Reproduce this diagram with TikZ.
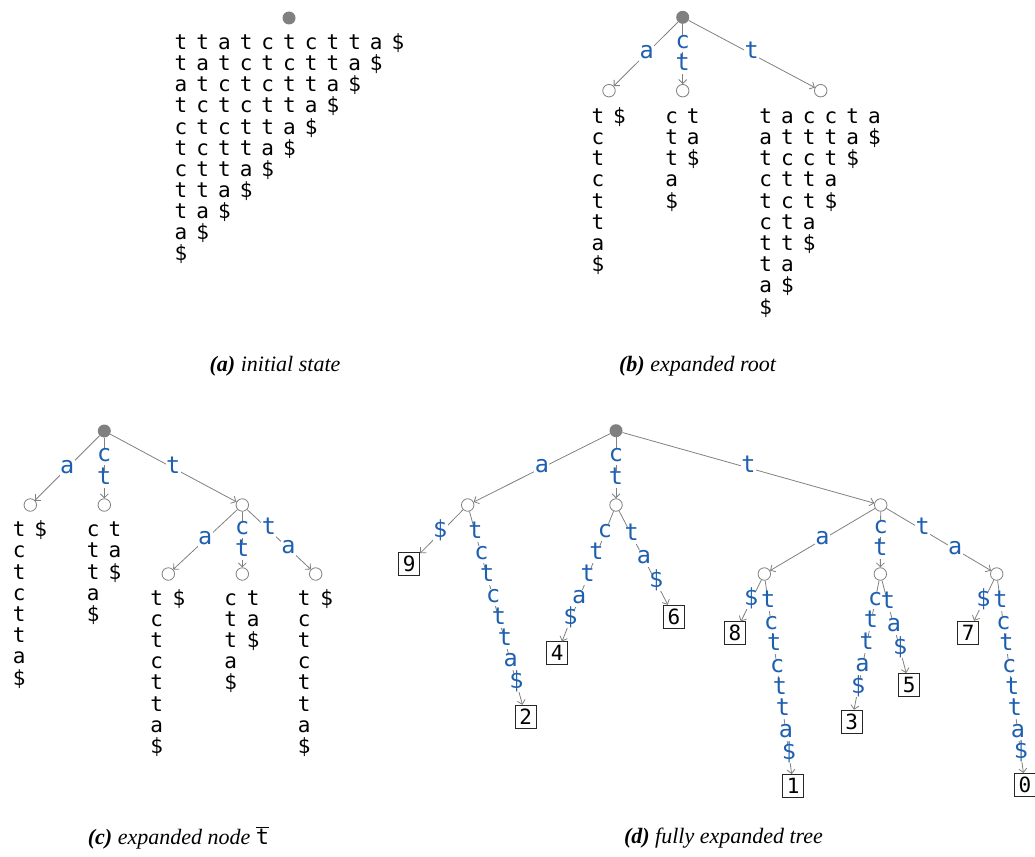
\documentclass[tikz,border=0pt]{standalone}
\usepackage{fontspec}
\setmainfont{Liberation Serif}
\newfontfamily\mono{DejaVu Sans Mono}
\usetikzlibrary{calc,arrows.meta}
\definecolor{edgegray}{RGB}{128,128,128}
\definecolor{lblblue}{RGB}{30,95,175}

% characters of the suffix columns
\newcommand\scol[5]{% name, x, first y, row step, characters
  \foreach \ch [count=\i from 0] in {#5}{\node[ch] (#1-\i) at (#2,#3+\i*#4) {\ch};}}
% one row of characters
\newcommand\srow[5]{% name, first x, y, column step, characters
  \foreach \ch [count=\i from 0] in {#5}{\node[ch] (#1-\i) at (#2+\i*#4,#3) {\ch};}}
% edge label: characters spread along the edge between two nodes
\newcommand\elab[5]{% parent, child, first fraction, fraction step, characters
  \foreach \ch [count=\i from 0] in {#5}{%
    \pgfmathsetmacro\ff{#3+\i*#4}%
    \node[lbl] (#1#2-\i) at ($(#1)!\ff!(#2)$) {\ch};}}

\begin{document}
\begin{tikzpicture}[x=1pt,y=-1pt,
  ch/.style={font=\mono\fontsize{21}{21}\selectfont, inner sep=0pt,
    text height=13pt, text depth=3pt},
  lbl/.style={font=\mono\fontsize{23.5}{23.5}\selectfont, text=lblblue, fill=white,
    inner sep=0.5pt, text height=13pt, text depth=3pt},
  inner/.style={circle, draw=edgegray, fill=white, minimum size=12.5pt, inner sep=0pt, line width=0.8pt},
  rootn/.style={circle, fill=edgegray, minimum size=13pt, inner sep=0pt},
  edge/.style={draw=edgegray, line width=0.8pt, -{Straight Barb[length=4pt,width=8pt]}},
  leaf/.style={draw=black!85, line width=0.8pt, minimum width=21pt, minimum height=23pt, inner sep=0pt,
    font=\mono\fontsize{21}{21}\selectfont},
  captxt/.style={font=\fontsize{22}{22}\selectfont\itshape, inner sep=0pt}
]
\useasboundingbox (0,0) rectangle (1035,856);

% ---------- (a) initial state ----------
\node[rootn] (aR) at (289,18) {};
\srow{ar0}{181}{45}{21.7}{t,t,a,t,c,t,c,t,t,a,\$}
\srow{ar1}{181}{66}{21.7}{t,a,t,c,t,c,t,t,a,\$}
\srow{ar2}{181}{87}{21.7}{a,t,c,t,c,t,t,a,\$}
\srow{ar3}{181}{108}{21.7}{t,c,t,c,t,t,a,\$}
\srow{ar4}{181}{129}{21.7}{c,t,c,t,t,a,\$}
\srow{ar5}{181}{150}{21.7}{t,c,t,t,a,\$}
\srow{ar6}{181}{171}{21.7}{c,t,t,a,\$}
\srow{ar7}{181}{192}{21.7}{t,t,a,\$}
\srow{ar8}{181}{213}{21.7}{t,a,\$}
\srow{ar9}{181}{234}{21.7}{a,\$}
\srow{ar10}{181}{255}{21.7}{\$}
\node[captxt] (capa) at (275,366) {\textbf{(a)} initial state};

% ---------- (b) expanded root ----------
\node[rootn] (bR) at (682.7,17.3) {};
\node[inner] (bA) at (609,90.7) {};
\node[inner] (bC) at (682.7,90.7) {};
\node[inner] (bT) at (820.7,90.7) {};
\draw[edge] (bR) -- (bA);
\draw[edge] (bR) -- (bC);
\draw[edge] (bR) -- (bT);
\elab{bR}{bA}{0.49}{0}{a}
\elab{bR}{bC}{0.355}{0.30}{c,t}
\elab{bR}{bT}{0.5}{0}{t}
\scol{bA1}{598}{118.3}{21.2}{t,c,t,c,t,t,a,\$}
\scol{bA2}{619.5}{118.3}{21.2}{\$}
\scol{bC1}{671.7}{118.3}{21.2}{c,t,t,a,\$}
\scol{bC2}{693.3}{118.3}{21.2}{t,a,\$}
\scol{bT1}{765.7}{118.3}{21.2}{t,a,t,c,t,c,t,t,a,\$}
\scol{bT2}{787.5}{118.3}{21.2}{a,t,c,t,c,t,t,a,\$}
\scol{bT3}{809.3}{118.3}{21.2}{c,t,c,t,t,a,\$}
\scol{bT4}{831}{118.3}{21.2}{c,t,t,a,\$}
\scol{bT5}{852.7}{118.3}{21.2}{t,a,\$}
\scol{bT6}{874.4}{118.3}{21.2}{a,\$}
\node[captxt] (capb) at (697.5,366) {\textbf{(b)} expanded root};

% ---------- (c) expanded node t ----------
\node[rootn] (cR) at (104.3,431) {};
\node[inner] (cA) at (30.3,505) {};
\node[inner] (cC) at (104.3,505) {};
\node[inner] (cT) at (242.3,505) {};
\node[inner] (cTA) at (168.3,574) {};
\node[inner] (cTC) at (242.3,574) {};
\node[inner] (cTT) at (315.7,574) {};
\draw[edge] (cR) -- (cA);
\draw[edge] (cR) -- (cC);
\draw[edge] (cR) -- (cT);
\draw[edge] (cT) -- (cTA);
\draw[edge] (cT) -- (cTC);
\draw[edge] (cT) -- (cTT);
\elab{cR}{cA}{0.5}{0}{a}
\elab{cR}{cC}{0.34}{0.31}{c,t}
\elab{cR}{cT}{0.5}{0}{t}
\elab{cT}{cTA}{0.5}{0}{a}
\elab{cT}{cTC}{0.35}{0.32}{c,t}
\elab{cT}{cTT}{0.362}{0.266}{t,a}
\scol{cA1}{19.3}{531.7}{21.2}{t,c,t,c,t,t,a,\$}
\scol{cA2}{40.7}{531.7}{21.2}{\$}
\scol{cC1}{93.3}{531.7}{21.2}{c,t,t,a,\$}
\scol{cC2}{115}{531.7}{21.2}{t,a,\$}
\scol{cTA1}{156.7}{600}{21.2}{t,c,t,c,t,t,a,\$}
\scol{cTA2}{179}{600}{21.2}{\$}
\scol{cTC1}{230.7}{600}{21.2}{c,t,t,a,\$}
\scol{cTC2}{253.3}{600}{21.2}{t,a,\$}
\scol{cTT1}{304.3}{600}{21.2}{t,c,t,c,t,t,a,\$}
\scol{cTT2}{326.7}{600}{21.2}{\$}
\node[captxt] (capc) at (178.5,838) {\textbf{(c)} expanded node
  \(\overline{\hbox{\upshape\mono\fontsize{22}{22}\selectfont t}}\)};

% ---------- (d) fully expanded tree ----------
\node[rootn] (dR) at (616,430.7) {};
\node[inner] (dA) at (467.7,505) {};
\node[inner] (dC) at (616,505) {};
\node[inner] (dT) at (880.7,505) {};
\node[inner] (dTA) at (764.3,574) {};
\node[inner] (dTC) at (880.3,574) {};
\node[inner] (dTT) at (996.7,574) {};
\node[leaf] (d9) at (409.3,564.3) {9};
\node[leaf] (d2) at (525.7,716.7) {2};
\node[leaf] (d4) at (557.3,653.3) {4};
\node[leaf] (d6) at (674,616.7) {6};
\node[leaf] (d8) at (735,633.3) {8};
\node[leaf] (d1) at (793.3,786) {1};
\node[leaf] (d3) at (851.7,721.7) {3};
\node[leaf] (d5) at (909.3,685) {5};
\node[leaf] (d7) at (968.3,632.7) {7};
\node[leaf] (d0) at (1025,785) {0};
\foreach \p/\c in {dR/dA,dR/dC,dR/dT,dA/d9,dA/d2,dC/d4,dC/d6,
                   dT/dTA,dT/dTC,dT/dTT,dTA/d8,dTA/d1,dTC/d3,dTC/d5,dTT/d7,dTT/d0}
  \draw[edge] (\p) -- (\c);
\elab{dR}{dA}{0.5}{0}{a}
\elab{dR}{dC}{0.35}{0.31}{c,t}
\elab{dR}{dT}{0.5}{0}{t}
\elab{dA}{d9}{0.47}{0}{\$}
\elab{dA}{d2}{0.134}{0.1012}{t,c,t,c,t,t,a,\$}
\elab{dC}{d4}{0.187}{0.147}{c,t,t,a,\$}
\elab{dC}{d6}{0.269}{0.2115}{t,a,\$}
\elab{dT}{dTA}{0.5}{0}{a}
\elab{dT}{dTC}{0.345}{0.31}{c,t}
\elab{dT}{dTT}{0.362}{0.28}{t,a}
\elab{dTA}{d8}{0.45}{0}{\$}
\elab{dTA}{d1}{0.135}{0.102}{t,c,t,c,t,t,a,\$}
\elab{dTC}{d3}{0.181}{0.148}{c,t,t,a,\$}
\elab{dTC}{d5}{0.264}{0.21}{t,a,\$}
\elab{dTT}{d7}{0.47}{0}{\$}
\elab{dTT}{d0}{0.136}{0.1024}{t,c,t,c,t,t,a,\$}
\node[captxt] (capd) at (723.5,838) {\textbf{(d)} fully expanded tree};
\end{tikzpicture}
\end{document}
